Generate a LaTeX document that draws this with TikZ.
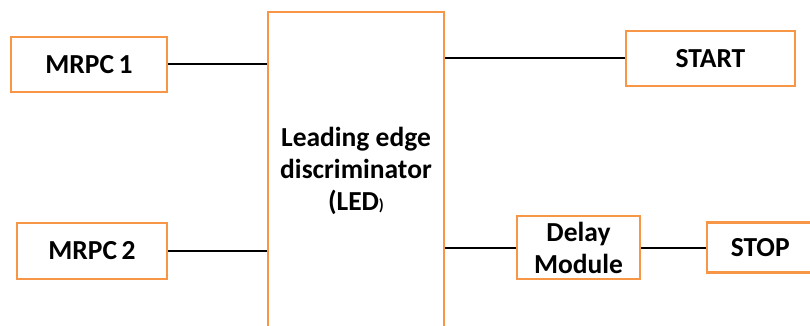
\documentclass[tikz,border=0pt]{standalone}
\usepackage{fontspec}
\setmainfont{Carlito}
\definecolor{boxorange}{HTML}{F79646}
\begin{document}
\begin{tikzpicture}[x=1pt,y=-1pt,
  blk/.style={draw=boxorange,line width=2.4pt,fill=white,inner sep=0pt,font=\bfseries\fontsize{27.5}{32}\selectfont,align=center},
  wire/.style={draw=black,line width=2pt}]
\useasboundingbox (0,0) rectangle (810,326);
\path[clip] (0,0) rectangle (810,326);
\node[blk,minimum width=156pt,minimum height=55pt] (m1) at (89,64.5) {MRPC\,1};
\node[blk,minimum width=150pt,minimum height=56pt] (m2) at (92,251) {MRPC\,2};
\node[blk,minimum width=176pt,minimum height=330pt,anchor=north] (led) at (356,11) {};
\node[font=\bfseries\fontsize{27.5}{32}\selectfont,align=center] (ledt) at (356,171) {Leading edge\\discriminator\\(LED{\fontsize{16}{18}\selectfont)}};
\node[blk,minimum width=169pt,minimum height=55pt] (start) at (710.5,58.5) {START};
\node[blk,minimum width=123pt,minimum height=63pt] (delay) at (578.5,247.5) {Delay\\Module};
\node[blk,minimum width=130pt,minimum height=50pt,anchor=west] (stop) at (706,247.5) {\hspace*{-24pt}STOP};
\coordinate (l1) at (led.west |- m1);
\coordinate (l2) at (led.west |- m2);
\coordinate (r1) at (led.east |- start);
\coordinate (r2) at (led.east |- delay);
\draw[wire] (m1.east) -- (l1);
\draw[wire] (m2.east) -- (l2);
\draw[wire] (r1) -- (start.west);
\draw[wire] (r2) -- (delay.west);
\draw[wire] (delay.east) -- (stop.west);
\end{tikzpicture}
\end{document}
